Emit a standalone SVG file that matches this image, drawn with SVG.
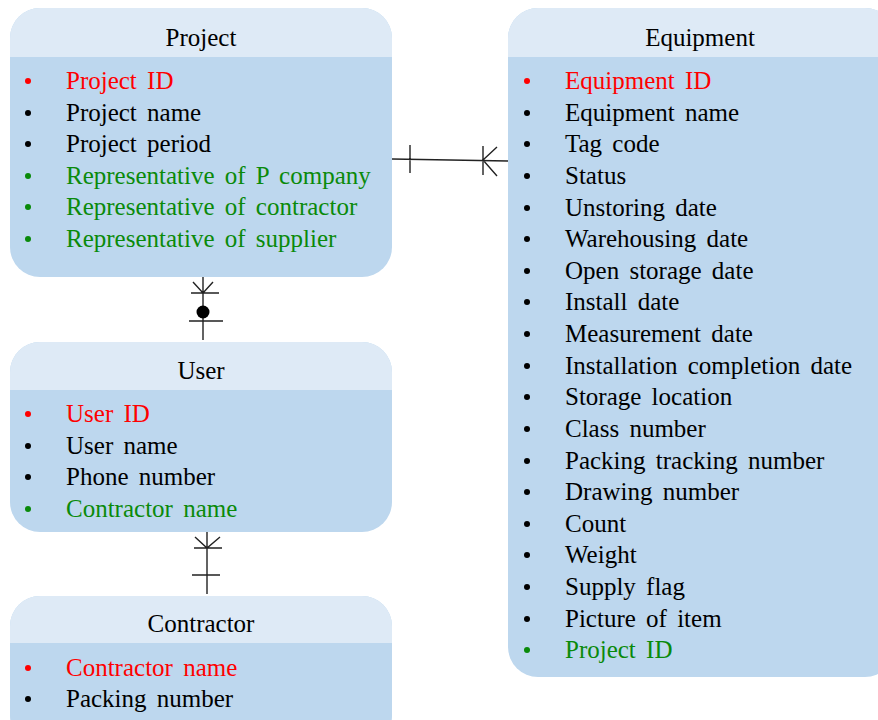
<svg xmlns="http://www.w3.org/2000/svg" width="878" height="720" viewBox="0 0 878 720">
<style>
.body{fill:#BDD7EE}
.head{fill:#DEEAF6}
text{font-family:"Liberation Serif","Times New Roman",serif;font-size:25px;word-spacing:4px}
.t{text-anchor:middle;fill:#000}
.k{fill:#000}.r{fill:#FF0000}.g{fill:#0A8A0A}
.c{stroke:#222;stroke-width:1.4;fill:none}
</style>
<rect width="878" height="720" fill="#fff"/>
<g id="project">
<rect class="body" x="10" y="8" width="382" height="269" rx="30"/>
<path class="head" d="M10,57 V38 A30,30 0 0 1 40,8 H362 A30,30 0 0 1 392,38 V57 Z"/>
<text class="t" x="201" y="46">Project</text>
<circle class="r" cx="28" cy="81" r="3"/><text class="r" x="66" y="89">Project ID</text>
<circle class="k" cx="28" cy="113" r="3"/><text class="k" x="66" y="121">Project name</text>
<circle class="k" cx="28" cy="144" r="3"/><text class="k" x="66" y="152">Project period</text>
<circle class="g" cx="28" cy="176" r="3"/><text class="g" x="66" y="184">Representative of P company</text>
<circle class="g" cx="28" cy="207" r="3"/><text class="g" x="66" y="215">Representative of contractor</text>
<circle class="g" cx="28" cy="239" r="3"/><text class="g" x="66" y="247">Representative of supplier</text>
</g>
<g id="equipment">
<rect class="body" x="508" y="8" width="387" height="669" rx="30"/>
<path class="head" d="M508,57 V38 A30,30 0 0 1 538,8 H865 A30,30 0 0 1 895,38 V57 Z"/>
<text class="t" x="700" y="46">Equipment</text>
<circle class="r" cx="527" cy="81" r="3"/><text class="r" x="565" y="89">Equipment ID</text>
<circle class="k" cx="527" cy="113" r="3"/><text class="k" x="565" y="121">Equipment name</text>
<circle class="k" cx="527" cy="144" r="3"/><text class="k" x="565" y="152">Tag code</text>
<circle class="k" cx="527" cy="176" r="3"/><text class="k" x="565" y="184">Status</text>
<circle class="k" cx="527" cy="208" r="3"/><text class="k" x="565" y="216">Unstoring date</text>
<circle class="k" cx="527" cy="239" r="3"/><text class="k" x="565" y="247">Warehousing date</text>
<circle class="k" cx="527" cy="271" r="3"/><text class="k" x="565" y="279">Open storage date</text>
<circle class="k" cx="527" cy="302" r="3"/><text class="k" x="565" y="310">Install date</text>
<circle class="k" cx="527" cy="334" r="3"/><text class="k" x="565" y="342">Measurement date</text>
<circle class="k" cx="527" cy="366" r="3"/><text class="k" x="565" y="374">Installation completion date</text>
<circle class="k" cx="527" cy="397" r="3"/><text class="k" x="565" y="405">Storage location</text>
<circle class="k" cx="527" cy="429" r="3"/><text class="k" x="565" y="437">Class number</text>
<circle class="k" cx="527" cy="461" r="3"/><text class="k" x="565" y="469">Packing tracking number</text>
<circle class="k" cx="527" cy="492" r="3"/><text class="k" x="565" y="500">Drawing number</text>
<circle class="k" cx="527" cy="524" r="3"/><text class="k" x="565" y="532">Count</text>
<circle class="k" cx="527" cy="555" r="3"/><text class="k" x="565" y="563">Weight</text>
<circle class="k" cx="527" cy="587" r="3"/><text class="k" x="565" y="595">Supply flag</text>
<circle class="k" cx="527" cy="619" r="3"/><text class="k" x="565" y="627">Picture of item</text>
<circle class="g" cx="527" cy="650" r="3"/><text class="g" x="565" y="658">Project ID</text>
</g>
<g id="user">
<rect class="body" x="10" y="342" width="382" height="190" rx="30"/>
<path class="head" d="M10,390 V372 A30,30 0 0 1 40,342 H362 A30,30 0 0 1 392,372 V390 Z"/>
<text class="t" x="201" y="379">User</text>
<circle class="r" cx="28" cy="414" r="3"/><text class="r" x="66" y="422">User ID</text>
<circle class="k" cx="28" cy="446" r="3"/><text class="k" x="66" y="454">User name</text>
<circle class="k" cx="28" cy="477" r="3"/><text class="k" x="66" y="485">Phone number</text>
<circle class="g" cx="28" cy="509" r="3"/><text class="g" x="66" y="517">Contractor name</text>
</g>
<g id="contractor">
<rect class="body" x="10" y="596" width="382" height="150" rx="30"/>
<path class="head" d="M10,643 V626 A30,30 0 0 1 40,596 H362 A30,30 0 0 1 392,626 V643 Z"/>
<text class="t" x="201" y="632">Contractor</text>
<circle class="r" cx="28" cy="668" r="3"/><text class="r" x="66" y="676">Contractor name</text>
<circle class="k" cx="28" cy="699" r="3"/><text class="k" x="66" y="707">Packing number</text>
</g>
<g id="connectors">
<path class="c" d="M392,159 L508,161 M410,145 V173 M483,146 V175 M483,160 L497,147 M483,160 L497,176"/>
<path class="c" d="M203,277 V340 M193,282 L203,293 L213,282 M191,293 H219 M189,321 H223"/>
<circle cx="203" cy="312" r="6.5" fill="#000"/>
<path class="c" d="M207,532 V594 M195,537 L207,548 L220,537 M194,548 H222 M192,575 H220"/>
</g>
</svg>
